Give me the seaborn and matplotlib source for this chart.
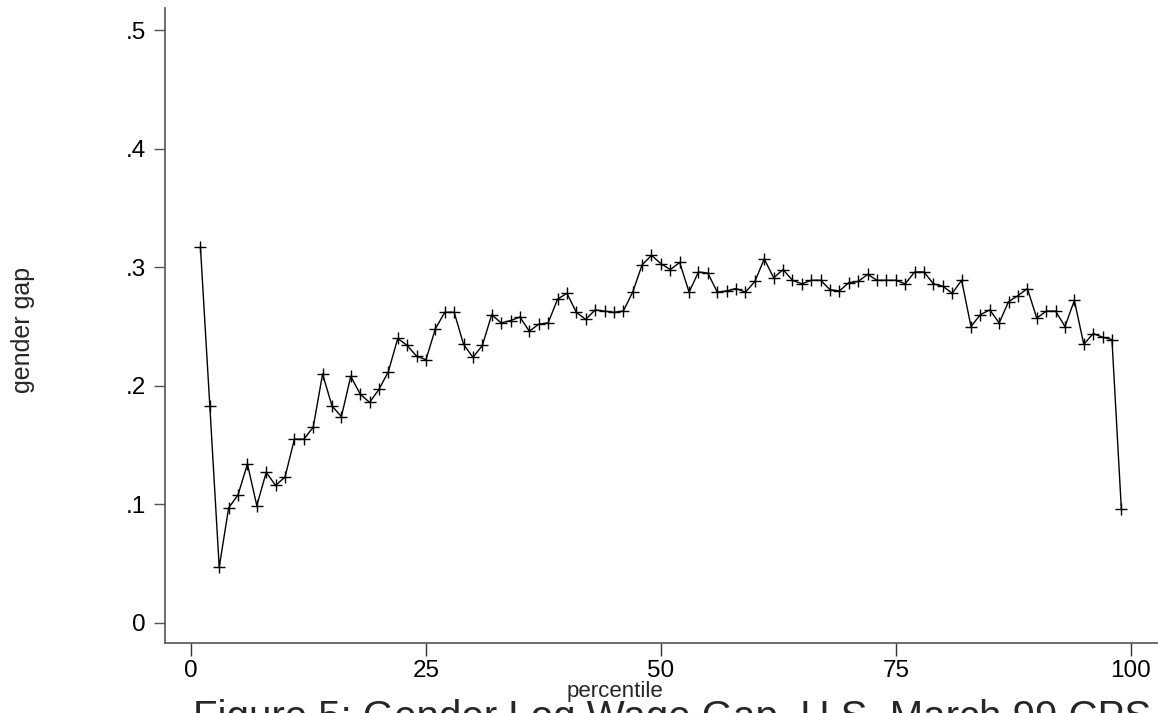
import matplotlib
matplotlib.use("Agg")
import matplotlib.pyplot as plt
import seaborn as sns
import pandas as pd

percentile = list(range(1, 100))
gender_gap = [
    0.317, 0.183, 0.047, 0.097, 0.108, 0.134, 0.099, 0.127, 0.116, 0.123,
    0.155, 0.155, 0.165, 0.210, 0.183, 0.174, 0.208, 0.193, 0.186, 0.197,
    0.212, 0.240, 0.234, 0.225, 0.222, 0.248, 0.262, 0.262, 0.235, 0.224,
    0.234, 0.260, 0.253, 0.255, 0.258, 0.246, 0.252, 0.253, 0.273, 0.278,
    0.262, 0.256, 0.264, 0.263, 0.262, 0.263, 0.279, 0.302, 0.310, 0.303,
    0.298, 0.304, 0.279, 0.296, 0.295, 0.279, 0.280, 0.282, 0.279, 0.288,
    0.307, 0.291, 0.298, 0.289, 0.286, 0.289, 0.289, 0.281, 0.280, 0.287,
    0.288, 0.294, 0.289, 0.289, 0.289, 0.286, 0.296, 0.296, 0.286, 0.284,
    0.278, 0.289, 0.250, 0.260, 0.264, 0.253, 0.271, 0.276, 0.282, 0.257,
    0.263, 0.263, 0.250, 0.272, 0.235, 0.244, 0.241, 0.239, 0.096,
]
x_ticks = [0, 25, 50, 75, 100]
x_tick_labels = ["0", "25", "50", "75", "100"]
y_ticks = [0, 0.1, 0.2, 0.3, 0.4, 0.5]
y_tick_labels = ["0", ".1", ".2", ".3", ".4", ".5"]
x_label = "percentile"
y_label = "gender gap"
title = "Figure 5: Gender Log Wage Gap, U.S. March 99 CPS"

df = pd.DataFrame({"percentile": percentile, "gap": gender_gap})

sns.set_style("ticks")
plt.rcParams["font.family"] = ["Liberation Sans", "DejaVu Sans"]

fig = plt.figure(figsize=(11.58, 7.13), dpi=100)
ax = fig.add_axes([165 / 1158, 70 / 713, (1158 - 165) / 1158, 635 / 713])

sns.lineplot(data=df, x="percentile", y="gap", ax=ax, color="black",
             linewidth=1.0, marker="+", markersize=9, markeredgewidth=1.0,
             markeredgecolor="black")

ax.set_xlim(-2.77, 102.9)
ax.set_ylim(-0.0169, 0.5186)
ax.set_xticks(x_ticks)
ax.set_xticklabels(x_tick_labels)
ax.set_yticks(y_ticks)
ax.set_yticklabels(y_tick_labels)

for s in ["top", "right"]:
    ax.spines[s].set_visible(False)
for s in ["left", "bottom"]:
    ax.spines[s].set_color("#555555")
    ax.spines[s].set_linewidth(1.2)

ax.tick_params(axis="x", length=9, width=1, color="#333333", pad=3,
               labelsize=17.5, labelcolor="black")
ax.tick_params(axis="y", length=8, width=1, color="#555555", pad=6,
               labelsize=17.5, labelcolor="black")

ax.set_xlabel(x_label, fontsize=16, labelpad=0)
ax.set_ylabel(y_label, fontsize=18)
ax.xaxis.set_label_coords((615 - 165) / 993, -38 / 635)
ax.yaxis.set_label_coords(-(165 - 35) / 993, (643 - 330) / 635)

fig.text(0.58, -0.022, title, ha="center", va="baseline", fontsize=29)

fig.savefig("out.png", dpi=100)
